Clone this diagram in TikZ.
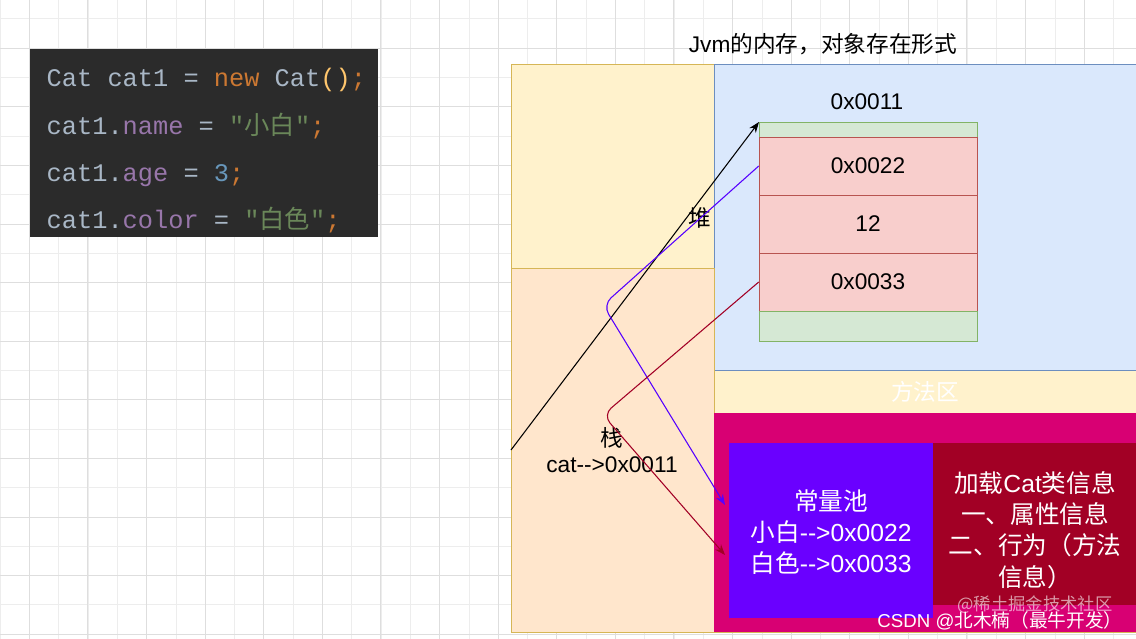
\documentclass[tikz,border=0pt]{standalone}
\usepackage{fontspec}
\setmainfont{Liberation Sans}
\newfontfamily\cjk{Noto Sans CJK SC}
\newfontfamily\codefont{Liberation Mono}
\usetikzlibrary{arrows.meta}
\definecolor{codebg}{HTML}{2B2B2B}
\definecolor{cplain}{HTML}{A9B7C6}
\definecolor{ckw}{HTML}{CC7832}
\definecolor{cfield}{HTML}{9876AA}
\definecolor{cstr}{HTML}{6A8759}
\definecolor{cnum}{HTML}{6897BB}
\definecolor{cparen}{HTML}{FFC66D}
\definecolor{yfill}{HTML}{FFF2CC}
\definecolor{ystroke}{HTML}{D6B656}
\definecolor{bfill}{HTML}{DAE8FC}
\definecolor{bstroke}{HTML}{6C8EBF}
\definecolor{ofill}{HTML}{FFE6CC}
\definecolor{pink}{HTML}{D80073}
\definecolor{violet}{HTML}{6A00FF}
\definecolor{darkred}{HTML}{A20025}
\definecolor{gfill}{HTML}{D5E8D4}
\definecolor{gstroke}{HTML}{82B366}
\definecolor{rfill}{HTML}{F8CECC}
\definecolor{rstroke}{HTML}{B85450}
\newcommand{\arrtxt}{-{}-{}>}
\tikzset{
  cell/.style={draw=rstroke,fill=rfill,font=\fontsize{17}{20}\selectfont},
  gcell/.style={draw=gstroke,fill=gfill},
  lbl/.style={font=\fontsize{17}{20}\selectfont,align=center},
  big/.style={font=\fontsize{18.5}{23.5}\selectfont,align=center,text=white},
  code/.style={anchor=base west,font=\codefont\fontsize{19}{22}\selectfont,text=cplain},
  arr/.style={-{Stealth[length=8pt,width=6pt]},line width=0.8pt,rounded corners=8pt}
}
\begin{document}
\begin{tikzpicture}[x=0.75pt,y=-0.75pt]
\useasboundingbox (0,0) rectangle (1136,639);
\fill[white] (0,0) rectangle (1136,639);
\foreach \i in {0,...,38} \draw[black!7] ({29.3*\i},0) -- ({29.3*\i},639);
\foreach \i in {0,...,22} \draw[black!7] (0,{29.3*\i-10.6}) -- (1136,{29.3*\i-10.6});
\foreach \i in {0,...,19} \draw[black!13] ({29+58.6*\i},0) -- ({29+58.6*\i},639);
\foreach \i in {0,...,11} \draw[black!13] (0,{48+58.6*\i}) -- (1136,{48+58.6*\i});
% code
\node[fill=codebg,minimum width=348*0.75pt,minimum height=188*0.75pt,anchor=north west,inner sep=0] (code) at (30,49) {};
\node[code] (l1) at (42,86) {Cat cat1 = \textcolor{ckw}{new} Cat\textcolor{cparen}{()}\textcolor{ckw}{;}};
\node[code] (l2) at (42,134) {cat1.\textcolor{cfield}{name} = \textcolor{cstr}{"{\cjk 小白}"}\textcolor{ckw}{;}};
\node[code] (l3) at (42,181) {cat1.\textcolor{cfield}{age} = \textcolor{cnum}{3}\textcolor{ckw}{;}};
\node[code] (l4) at (42,228) {cat1.\textcolor{cfield}{color} = \textcolor{cstr}{"{\cjk 白色}"}\textcolor{ckw}{;}};
% memory
\node[lbl] (title) at (823,44) {Jvm{\cjk 的内存，对象存在形式}};
\draw[ystroke,fill=yfill] (511,64) rectangle (1136,632);
\draw[bstroke,fill=bfill] (714,64) rectangle (1136,370);
\draw[ystroke,fill=ofill] (511,268) rectangle (714,632);
\fill[pink] (714,413) rectangle (1136,632);
\node[lbl,text=white,font=\cjk\fontsize{17}{20}\selectfont] (mlabel) at (925,392) {方法区};
\fill[violet] (729,443) rectangle (933,618);
\fill[darkred] (933,443) rectangle (1136,605);
\node[big] (pool) at (831,532) {{\cjk 常量池}\\{\cjk 小白}\arrtxt 0x0022\\{\cjk 白色}\arrtxt 0x0033};
\node[big] (cls) at (1035,530) {{\cjk 加载}Cat{\cjk 类信息}\\{\cjk 一、属性信息}\\{\cjk 二、行为（方法}\\{\cjk 信息）}};
% object
\draw[gcell] (759,122) rectangle (977,137);
\node[cell,minimum width=218*0.75pt,minimum height=58*0.75pt] (c1) at (868,166) {0x0022};
\node[cell,minimum width=218*0.75pt,minimum height=58*0.75pt] (c2) at (868,224) {12};
\node[cell,minimum width=218*0.75pt,minimum height=58*0.75pt] (c3) at (868,282) {0x0033};
\draw[gcell] (759,311) rectangle (977,341);
\coordinate (objtop) at (759,122);
\node[lbl] (addr) at (867,102) {0x0011};
\node[lbl,font=\cjk\fontsize{17}{20}\selectfont] (heap) at (700,218) {堆};
\node[lbl] (stack) at (612,450) {{\cjk 栈}\\cat\arrtxt 0x0011};
\coordinate (s) at (511,450);
\coordinate (p1) at (725,505);
\coordinate (p2) at (725,555);
\draw[arr,black] (s) -- (objtop);
\draw[arr,violet!80!blue] (c1.west) -- (603,305) -- (p1);
\draw[arr,darkred] (c3.west) -- (603,415) -- (p2);
\node[text=white,opacity=0.6,font=\cjk\fontsize{13}{16}\selectfont] (wm1) at (1035,605) {@稀土掘金技术社区};
\node[text=white,font=\fontsize{14}{16}\selectfont] (wm2) at (1000,621) {CSDN @{\cjk 北木楠（最牛开发）}};
\end{tikzpicture}
\end{document}
